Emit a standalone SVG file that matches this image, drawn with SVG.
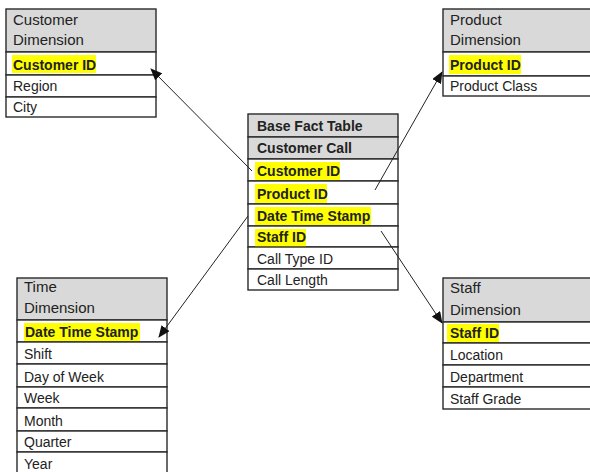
<svg xmlns="http://www.w3.org/2000/svg" width="590" height="472" viewBox="0 0 590 472">
<style>
  .r{fill:#fff;stroke:#2a2a2a;stroke-width:1.4}
  .h{fill:#d9d9d9;stroke:#2a2a2a;stroke-width:1.4}
  .hl{fill:#ffff00}
  text{font-family:"Liberation Sans",Arial,sans-serif;font-size:14px;fill:#222}
  .hd{font-size:15px}
  .b{font-weight:bold}
  .c{stroke:#222;stroke-width:1;fill:none;marker-end:url(#ah)}
</style>
<defs>
  <marker id="ah" markerWidth="12" markerHeight="10" refX="11" refY="5" orient="auto" markerUnits="userSpaceOnUse">
    <path d="M0,0 L12,5 L0,10 Z" fill="#111"/>
  </marker>
</defs>
<rect width="590" height="472" fill="#fff"/>

<g id="customer-dimension">
  <rect class="h" x="6" y="9" width="150" height="43"/>
  <text class="hd" x="13" y="25">Customer</text>
  <text class="hd" x="13" y="45">Dimension</text>
  <rect class="r" x="6" y="52" width="150" height="23"/>
  <rect class="hl" x="12" y="55" width="84" height="18"/>
  <text class="b" x="13" y="70">Customer ID</text>
  <rect class="r" x="6" y="75" width="150" height="22"/>
  <text x="13" y="91">Region</text>
  <rect class="r" x="6" y="97" width="150" height="20"/>
  <text x="13" y="112">City</text>
</g>

<g id="product-dimension">
  <rect class="h" x="443" y="9" width="152" height="43"/>
  <text class="hd" x="450" y="25">Product</text>
  <text class="hd" x="450" y="45">Dimension</text>
  <rect class="r" x="443" y="52" width="152" height="24"/>
  <rect class="hl" x="449" y="55" width="72" height="19"/>
  <text class="b" x="450" y="70">Product ID</text>
  <rect class="r" x="443" y="76" width="152" height="20"/>
  <text x="450" y="91">Product Class</text>
</g>

<g id="base-fact-table">
  <rect class="h" x="248" y="114" width="150" height="23"/>
  <text class="b" x="257" y="131">Base Fact Table</text>
  <rect class="h" x="248" y="137" width="150" height="22"/>
  <text class="b" x="257" y="153">Customer Call</text>
  <rect class="r" x="248" y="159" width="150" height="22"/>
  <rect class="hl" x="255" y="162" width="85" height="18"/>
  <text class="b" x="257" y="176">Customer ID</text>
  <rect class="r" x="248" y="181" width="150" height="23"/>
  <rect class="hl" x="255" y="184" width="72" height="19"/>
  <text class="b" x="257" y="199">Product ID</text>
  <rect class="r" x="248" y="204" width="150" height="22"/>
  <rect class="hl" x="255" y="207" width="116" height="18"/>
  <text class="b" x="257" y="221">Date Time Stamp</text>
  <rect class="r" x="248" y="226" width="150" height="21"/>
  <rect class="hl" x="255" y="229" width="51" height="18"/>
  <text class="b" x="257" y="242">Staff ID</text>
  <rect class="r" x="248" y="247" width="150" height="22"/>
  <text x="257" y="264">Call Type ID</text>
  <rect class="r" x="248" y="269" width="150" height="21"/>
  <text x="257" y="285">Call Length</text>
</g>

<g id="time-dimension">
  <rect class="h" x="17" y="278" width="150" height="42"/>
  <text class="hd" x="24" y="292">Time</text>
  <text class="hd" x="24" y="313">Dimension</text>
  <rect class="r" x="17" y="320" width="150" height="22"/>
  <rect class="hl" x="24" y="323" width="116" height="18"/>
  <text class="b" x="25" y="337">Date Time Stamp</text>
  <rect class="r" x="17" y="342" width="150" height="22"/>
  <text x="24" y="359">Shift</text>
  <rect class="r" x="17" y="364" width="150" height="23"/>
  <text x="24" y="382">Day of Week</text>
  <rect class="r" x="17" y="387" width="150" height="21"/>
  <text x="24" y="403">Week</text>
  <rect class="r" x="17" y="408" width="150" height="23"/>
  <text x="24" y="426">Month</text>
  <rect class="r" x="17" y="431" width="150" height="21"/>
  <text x="24" y="447">Quarter</text>
  <rect class="r" x="17" y="452" width="150" height="24"/>
  <text x="24" y="469">Year</text>
</g>

<g id="staff-dimension">
  <rect class="h" x="443" y="278" width="152" height="44"/>
  <text class="hd" x="450" y="293">Staff</text>
  <text class="hd" x="450" y="315">Dimension</text>
  <rect class="r" x="443" y="322" width="152" height="21"/>
  <rect class="hl" x="447" y="324" width="52" height="18"/>
  <text class="b" x="450" y="338">Staff ID</text>
  <rect class="r" x="443" y="343" width="152" height="22"/>
  <text x="450" y="360">Location</text>
  <rect class="r" x="443" y="365" width="152" height="22"/>
  <text x="450" y="382">Department</text>
  <rect class="r" x="443" y="387" width="152" height="22"/>
  <text x="450" y="404">Staff Grade</text>
</g>

<g id="connectors">
  <line class="c" x1="252" y1="171" x2="151" y2="69"/>
  <line class="c" x1="375" y1="190" x2="442" y2="72"/>
  <line class="c" x1="248" y1="216" x2="159" y2="337"/>
  <line class="c" x1="381" y1="231" x2="442" y2="323"/>
</g>
</svg>
